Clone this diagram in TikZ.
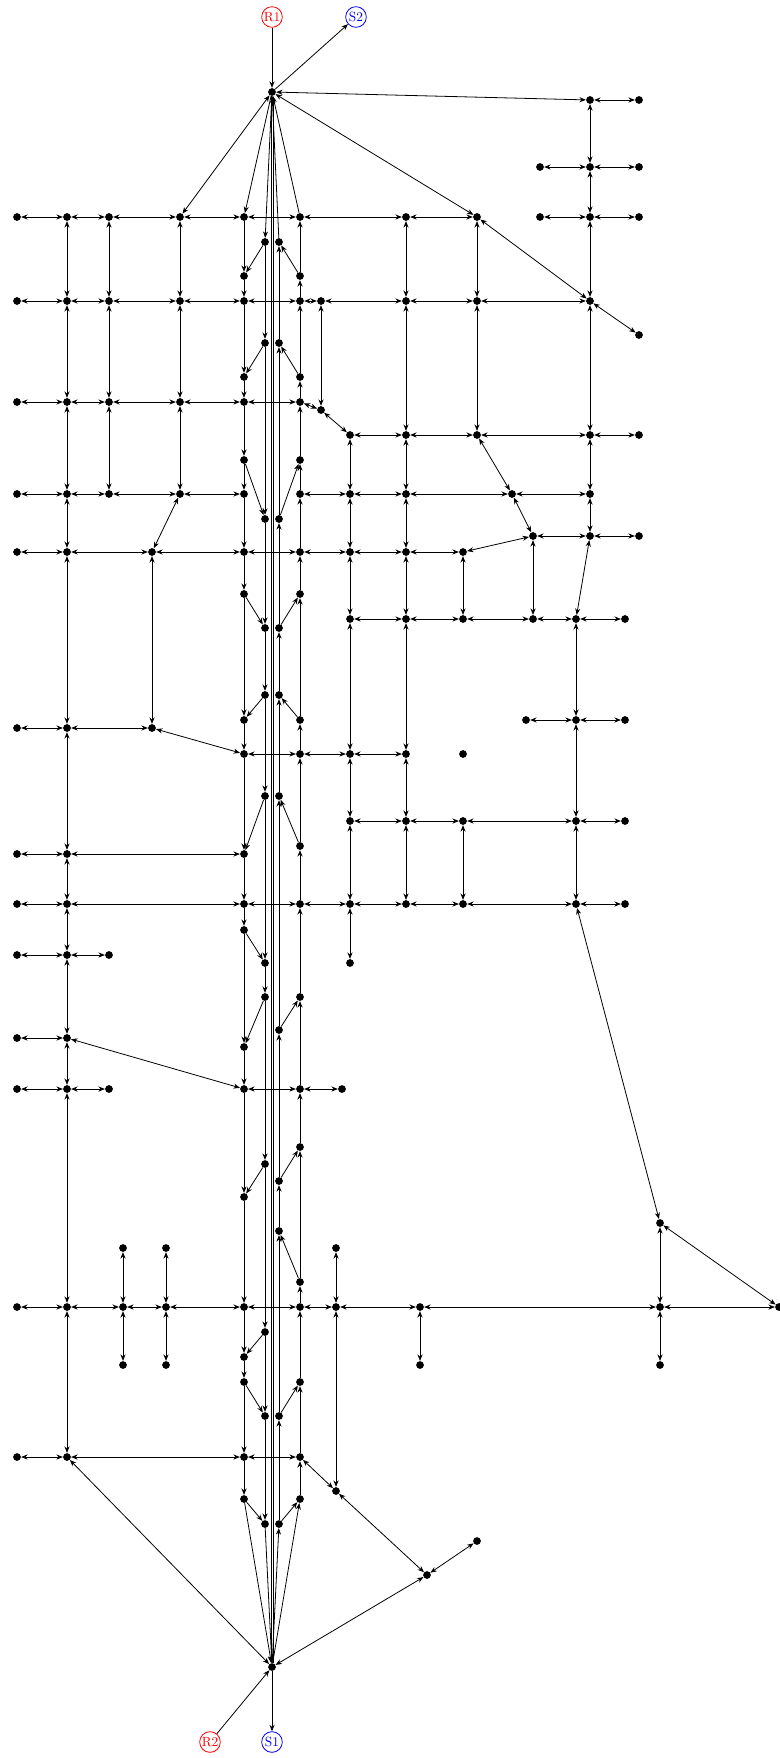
\documentclass[tikz,border=0pt]{standalone}
\usetikzlibrary{arrows.meta}
\begin{document}
\begin{tikzpicture}[x=0.75pt,y=-0.75pt,
  dot/.style={circle,fill=black,inner sep=0pt,minimum size=5.8pt},
  term/.style={circle,draw,line width=0.6pt,minimum size=15.5pt,inner sep=0pt,font=\normalsize},
  e/.style={-{Stealth[length=4.8pt,width=3.8pt,inset=1.5pt]},line width=0.6pt},
  be/.style={{Stealth[length=4.8pt,width=3.8pt,inset=1.5pt]}-{Stealth[length=4.8pt,width=3.8pt,inset=1.5pt]},line width=0.6pt}]
\useasboundingbox (0,0) rectangle (779,1758);
\node[term,draw=red,text=red] (nR1) at (272,17) {R1};
\node[term,draw=blue,text=blue] (nS2) at (356,17) {S2};
\node[term,draw=red,text=red] (nR2) at (210,1742) {R2};
\node[term,draw=blue,text=blue] (nS1) at (272,1742) {S1};
\node[dot] (nH1) at (272,92) {};
\node[dot] (nH2) at (272,1667) {};
\foreach \x/\y in {590/100, 639/100,
540/167, 590/167, 639/167,
17/217, 67/217, 109/217, 180/217, 244/217, 300/217, 406/217, 477/217, 540/217, 590/217, 639/217,
265/242, 279/242, 244/276, 300/276,
17/301, 67/301, 109/301, 180/301, 244/301, 300/301, 321/301, 406/301, 477/301, 590/301,
639/335, 265/343, 279/343, 244/377, 300/377,
17/402, 67/402, 109/402, 180/402, 244/402, 300/402, 321/410,
350/435, 406/435, 477/435, 590/435, 639/435,
244/460, 300/460,
17/494, 67/494, 109/494, 180/494, 244/494, 300/494, 350/494, 406/494, 512/494, 590/494,
265/519, 279/519, 533/536, 590/536, 639/536,
17/552, 67/552, 152/552, 244/552, 300/552, 350/552, 406/552, 463/552,
244/594, 300/594,
350/619, 406/619, 463/619, 533/619, 576/619, 625/619,
265/628, 279/628, 265/695, 279/695,
244/720, 300/720, 526/720, 576/720, 625/720,
17/728, 67/728, 152/728,
244/754, 300/754, 350/754, 406/754, 463/754,
265/796, 279/796,
350/821, 406/821, 463/821, 576/821, 625/821,
300/846, 17/854, 67/854, 244/854,
17/904, 67/904, 244/904, 300/904, 350/904, 406/904, 463/904, 576/904, 625/904,
244/930, 17/955, 67/955, 109/955, 265/963, 350/963,
265/997, 300/997, 279/1030, 17/1038, 67/1038, 244/1047,
17/1089, 67/1089, 109/1089, 244/1089, 300/1089, 342/1089,
300/1147, 265/1164, 279/1181, 244/1197, 660/1223, 279/1231,
123/1248, 166/1248, 336/1248, 300/1282,
17/1307, 67/1307, 123/1307, 166/1307, 244/1307, 300/1307, 336/1307, 420/1307, 660/1307, 779/1307,
265/1332, 244/1357, 123/1365, 166/1365, 420/1365, 660/1365,
244/1382, 300/1382, 265/1416, 279/1416,
17/1457, 67/1457, 244/1457, 300/1457, 336/1491,
244/1499, 300/1499, 265/1524, 279/1524, 477/1541, 427/1575}
  \node[dot] (n\x-\y) at (\x,\y) {};
% two-way connectors
\foreach \a/\b in {H1/590-100, H1/477-217, H1/180-217,
590-100/639-100, 590-100/590-167, 540-167/590-167, 590-167/639-167, 590-167/590-217, 540-217/590-217, 590-217/639-217, 590-217/590-301, 590-301/639-335, 477-217/590-301,
17-217/67-217, 67-217/109-217, 109-217/180-217, 180-217/244-217, 244-217/300-217, 300-217/406-217, 406-217/477-217,
17-301/67-301, 67-301/109-301, 109-301/180-301, 180-301/244-301, 244-301/300-301, 300-301/321-301, 321-301/406-301, 406-301/477-301, 477-301/590-301,
17-402/67-402, 67-402/109-402, 109-402/180-402, 180-402/244-402, 244-402/300-402, 300-402/321-410, 321-410/350-435, 321-301/321-410,
350-435/406-435, 406-435/477-435, 477-435/590-435, 590-435/639-435,
17-494/67-494, 67-494/109-494, 109-494/180-494, 180-494/244-494, 300-494/350-494, 350-494/406-494, 406-494/512-494, 512-494/590-494,
477-435/512-494, 512-494/533-536, 533-536/590-536, 590-536/639-536, 463-552/533-536,
17-552/67-552, 67-552/152-552, 152-552/244-552, 244-552/300-552, 300-552/350-552, 350-552/406-552, 406-552/463-552,
180-494/152-552, 152-552/152-728,
350-619/406-619, 406-619/463-619, 463-619/533-619, 533-619/576-619, 576-619/625-619,
590-536/576-619, 533-536/533-619, 463-552/463-619,
526-720/576-720, 576-720/625-720,
17-728/67-728, 67-728/152-728, 152-728/244-754,
244-754/300-754, 300-754/350-754, 350-754/406-754,
350-821/406-821, 406-821/463-821, 463-821/576-821, 576-821/625-821,
17-854/67-854, 67-854/244-854,
17-904/67-904, 67-904/244-904, 244-904/300-904, 300-904/350-904, 350-904/406-904, 406-904/463-904, 463-904/576-904, 576-904/625-904,
17-955/67-955, 67-955/109-955,
17-1038/67-1038, 67-1038/244-1089,
17-1089/67-1089, 67-1089/109-1089, 244-1089/300-1089, 300-1089/342-1089,
17-1307/67-1307, 67-1307/123-1307, 123-1307/166-1307, 166-1307/244-1307, 244-1307/300-1307, 300-1307/336-1307, 336-1307/420-1307, 420-1307/660-1307, 660-1307/779-1307,
17-1457/67-1457, 67-1457/244-1457, 244-1457/300-1457, 300-1457/336-1491,
67-217/67-301, 67-301/67-402, 67-402/67-494, 67-494/67-552, 67-552/67-728, 67-728/67-854, 67-854/67-904, 67-904/67-955, 67-955/67-1038, 67-1038/67-1089, 67-1089/67-1307, 67-1307/67-1457,
109-217/109-301, 109-301/109-402, 109-402/109-494,
180-217/180-301, 180-301/180-402, 180-402/180-494,
350-435/350-494, 350-494/350-552, 350-552/350-619, 350-619/350-754, 350-754/350-821, 350-821/350-904, 350-904/350-963,
406-217/406-301, 406-301/406-435, 406-435/406-494, 406-494/406-552, 406-552/406-619, 406-619/406-754, 406-754/406-821, 406-821/406-904,
477-217/477-301, 477-301/477-435,
590-301/590-435, 590-435/590-494, 590-494/590-536,
576-619/576-720, 576-720/576-821, 576-821/576-904, 576-904/660-1223,
463-821/463-904,
123-1248/123-1307, 123-1307/123-1365, 166-1248/166-1307, 166-1307/166-1365,
336-1248/336-1307, 336-1307/336-1491, 420-1307/420-1365,
660-1223/660-1307, 660-1307/660-1365, 660-1223/779-1307,
336-1491/427-1575, 427-1575/477-1541, 427-1575/H2, 67-1457/H2}
  \draw[be] (n\a) -- (n\b);
% one-way connectors
\foreach \a/\b in {R1/H1, H1/S2, R2/H2, H2/S1,
H1/244-217, H1/265-242, 279-242/H1, 300-217/H1,
244-217/244-276, 265-242/244-276, 244-276/244-301, 300-276/279-242, 300-276/300-217, 300-301/300-276,
265-242/265-343, 265-343/265-519, 265-519/265-628, 265-628/265-695, 265-695/265-796, 265-796/265-963, 265-963/265-997, 265-997/265-1164, 265-1164/265-1332, 265-1332/265-1416, 265-1416/265-1524, 265-1524/H2,
H2/279-1524, 279-1524/279-1416, 279-1416/279-1231, 279-1231/279-1181, 279-1181/279-1030, 279-1030/279-796, 279-796/279-695, 279-695/279-628, 279-628/279-519, 279-519/279-343, 279-343/279-242,
244-301/244-377, 244-377/244-402, 244-402/244-460, 244-460/244-494, 244-494/244-552, 244-552/244-594, 244-594/244-720, 244-720/244-754, 244-754/244-854, 244-854/244-904, 244-904/244-930, 244-930/244-1047, 244-1047/244-1089, 244-1089/244-1197, 244-1197/244-1307, 244-1307/244-1357, 244-1357/244-1382, 244-1382/244-1457, 244-1457/244-1499, 244-1499/H2,
H2/300-1499, 300-1499/300-1457, 300-1457/300-1382, 300-1382/300-1307, 300-1307/300-1282, 300-1282/300-1147, 300-1147/300-1089, 300-1089/300-997, 300-997/300-904, 300-904/300-846, 300-846/300-754, 300-754/300-720, 300-720/300-594, 300-594/300-552, 300-552/300-494, 300-494/300-460, 300-460/300-402, 300-402/300-377, 300-377/300-301,
265-343/244-377, 244-460/265-519, 244-594/265-628, 265-695/244-720, 265-796/244-854, 244-930/265-963, 265-997/244-1047, 265-1164/244-1197, 265-1332/244-1357, 244-1382/265-1416, 244-1499/265-1524,
300-377/279-343, 279-519/300-460, 279-628/300-594, 300-720/279-695, 300-846/279-796, 279-1030/300-997, 279-1181/300-1147, 300-1282/279-1231, 279-1416/300-1382, 279-1524/300-1499}
  \draw[e] (n\a) -- (n\b);
\draw[e] ([xshift=-0.75pt]nH1.south) -- ([xshift=-0.75pt]nH2.north);
\draw[e] ([xshift=0.75pt]nH2.north) -- ([xshift=0.75pt]nH1.south);
\end{tikzpicture}
\end{document}
